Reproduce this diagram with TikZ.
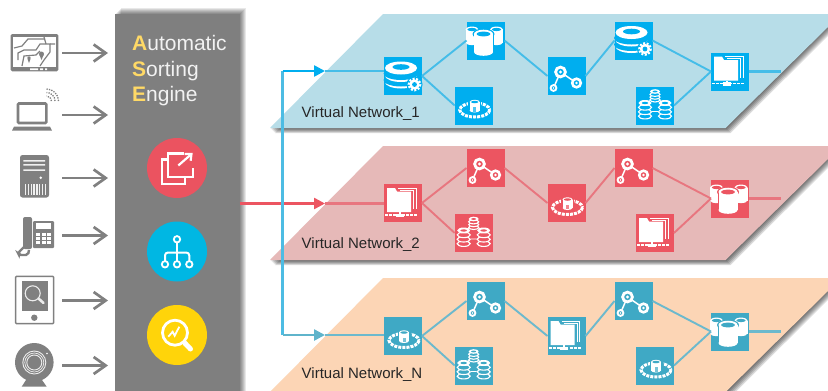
\documentclass[tikz,border=0pt]{standalone}
\usepackage{fontspec}
\setmainfont{Liberation Sans}
\usetikzlibrary{arrows.meta}
\definecolor{panelgray}{HTML}{7F7F7F}
\definecolor{devgray}{HTML}{808080}
\definecolor{planeblue}{HTML}{B7DDE8}
\definecolor{planered}{HTML}{E6B9B8}
\definecolor{planeorange}{HTML}{FCD5B5}
\definecolor{tileblue}{HTML}{00AEEF}
\definecolor{tilered}{HTML}{EC5561}
\definecolor{tileteal}{HTML}{3FA9C5}
\definecolor{wireblue}{HTML}{45BDE8}
\definecolor{wirered}{HTML}{E8767F}
\definecolor{wireteal}{HTML}{6CB9CD}
\definecolor{circred}{HTML}{EB5360}
\definecolor{circblue}{HTML}{00B7E3}
\definecolor{circyellow}{HTML}{FFD40A}
\definecolor{acc}{HTML}{FFD966}
\tikzset{
  x=1pt,y=-1pt,
  tilebox/.style={minimum size=38pt,inner sep=0pt,outer sep=0pt},
  devbox/.style={minimum width=1pt,minimum height=1pt,inner sep=0pt,outer sep=0pt},
  devarrow/.style={draw=devgray,line width=2.7pt,shorten >=7pt,-{Straight Barb[length=12pt,width=17pt,line width=2.7pt]}},
  wire/.style={line width=1.9pt},
  hwire/.style={line width=2.5pt},
  feed/.style={line width=2.5pt,-{Triangle[length=11pt,width=11pt]}},
  vnet/.style={font=\fontsize{15}{15}\selectfont,text=black!85,anchor=base west,inner sep=0pt},
  circ/.style={circle,minimum size=60pt,inner sep=0pt,outer sep=0pt},
}
% ---- tile icons (centre of tile is the origin) ----
\newcommand\cyl[4]{% x, ytop, rx, height
  \fill[white] (#1-#3,#2) rectangle (#1+#3,#2+#4);
  \fill[white] (#1,#2+#4) ellipse[x radius=#3,y radius=#3*.4];
  \fill[white] (#1,#2) ellipse[x radius=#3,y radius=#3*.45];
  \fill[tc] (#1,#2) ellipse[x radius=#3*.72,y radius=#3*.25];}
\newcommand\stackdb[4]{% x, ytop, rx, spacing
  \foreach \k in {3,2,1}{\draw[white,line width=1.1pt,fill=tc] (#1,#2+\k*#4) ellipse[x radius=#3,y radius=#3*.42];}
  \fill[white] (#1,#2) ellipse[x radius=#3,y radius=#3*.46];
  \fill[tc] (#1,#2) ellipse[x radius=#3*.5,y radius=#3*.18];}
\newcommand\icdbgear{%
  \fill[white] (-2,6) ellipse[x radius=16,y radius=6.5];
  \fill[tc] (-2,4) ellipse[x radius=17.5,y radius=6.5];
  \fill[white] (-2,-.5) ellipse[x radius=16,y radius=6.5];
  \fill[tc] (-2,-2.5) ellipse[x radius=17.5,y radius=6.5];
  \fill[white] (-2,-8) ellipse[x radius=16,y radius=6.5];
  \fill[tc] (-2,-9) ellipse[x radius=8.5,y radius=2.8];
  \fill[tc] (11.5,8.5) circle[radius=8];
  \fill[white] (11.5,8.5) circle[radius=5.2];
  \draw[white,line width=2pt,dash pattern=on 2pt off 1.6pt] (11.5,8.5) circle[radius=5.8];
  \fill[tc] (11.5,8.5) circle[radius=2.4];}
\newcommand\iccyls{%
  \cyl{-13.5}{-11}{6.5}{13}
  \cyl{11}{-11}{6.5}{13}
  \fill[tc] (-2,-6.5) ellipse[x radius=11,y radius=5.5];
  \fill[tc] (-12,-6.5) rectangle (8,13);
  \cyl{-2}{-6.5}{9.5}{18}}
\newcommand\icring{%
  \draw[white,line width=3pt,dash pattern=on 3pt off 1.1pt] (1,4.5) ellipse[x radius=15,y radius=7];
  \fill[tc] (-5.5,-6) rectangle (7.5,6);
  \cyl{1}{-3.5}{5}{8.5}
  \fill[tc!70!white] (-.5,1.5) rectangle (2.5,6);}
\newcommand\icgraph{%
  \draw[white,line width=1.5pt] (-6,-4) -- (10,7) (-6,-4) -- (-13,12);
  \foreach \a/\b/\r/\w in {-6/-4/4.9/2.8,10/7/4.3/2.6,-13/12/2.9/1.9}{
    \draw[white,line width=\w pt,fill=tc] (\a,\b) circle[radius=\r];
    \fill[white] (\a,\b) circle[radius=\r*.34];}}
\newcommand\icfolder{%
  \draw[white,line width=1pt] (-5,-15) -- (13,-15) -- (13,6);
  \draw[white,line width=1pt] (-3,-12.7) -- (10.5,-12.7) -- (10.5,6);
  \fill[white] (-16,-15) -- (-8,-15) -- (-6,-11.5) -- (8,-11.5) -- (8,9) -- (-16,9) -- cycle;
  \fill[white] (-4,9) rectangle (-2,12);
  \fill[white] (-7,10.5) rectangle (1,14);
  \draw[white,line width=1.5pt,dash pattern=on 3pt off 1.2pt] (-18,12) -- (14,12);}
\newcommand\ictree{%
  \draw[white,line width=.9pt] (0,-10) -- (-10,0) (0,-10) -- (10,0) (-3,6) -- (3,6);
  \stackdb{0}{-14}{5}{2.8}
  \stackdb{-10}{-2.5}{6.5}{4.4}
  \stackdb{10}{-2.5}{6.5}{4.4}}
\newcommand\tile[5]{% name,x,y,colour,icon
  \colorlet{tc}{#4}
  \node[tilebox,fill=#4] (#1) at (#2,#3) {};
  \begin{scope}[shift={(#2,#3)}]#5\end{scope}}
\newcommand\plane[2]{% top y, colour
  \foreach \d in {1,...,5}{\fill[black,opacity=.14] (383+\d,#1+\d) -- (840+\d,#1+\d) -- (725.5+\d,#1+114+\d) -- (270+\d,#1+114+\d) -- cycle;}
  \fill[#2] (383,#1) -- (828,#1) -- (828,#1+13) -- (725.5,#1+114) -- (270,#1+114) -- cycle;}
\newcommand\wires[3]{% prefix, colour, out y
  \draw[wire,#2] (#11.east) -- (#12.west);
  \draw[wire,#2] (#11.east) -- (#13.west);
  \draw[wire,#2] (#12.east) -- (#14.west);
  \draw[wire,#2] (#14.east) -- (#15.west);
  \draw[wire,#2] (#15.east) -- (#17.west);
  \draw[wire,#2] (#16.east) -- (#17.west);
  \coordinate (#1out) at (780.5,#3);
  \draw[hwire,#2] (#17.east) -- (#1out);}
\begin{document}
\begin{tikzpicture}
\useasboundingbox (0,0) rectangle (828,391);
\clip (0,0) rectangle (828,391);
\fill[white] (0,0) rectangle (828,391);
% planes
\plane{14}{planeblue}
\plane{146}{planered}
\plane{278}{planeorange}
% panel
\foreach \d in {1,...,6}{\fill[black,opacity=.09] (115+\d,14-\d) rectangle (239.5+\d,395);}
\node[fill=panelgray,minimum width=124.5pt,minimum height=380pt,inner sep=0pt,outer sep=0pt] (panel) at (177.25,204) {};
\node[anchor=north west,inner sep=0pt,align=left,text=white!95!black,font=\fontsize{21}{25.5}\selectfont] (title) at (132,35.5)
 {{\bfseries\color{acc}A}utomatic\\{\bfseries\color{acc}S}orting\\{\bfseries\color{acc}E}ngine};
% circles
\node[circ,fill=circred] (c1) at (177,168) {};
\node[circ,fill=circblue] (c2) at (177,251.5) {};
\node[circ,fill=circyellow] (c3) at (177,335) {};
\draw[white,line width=2.2pt,line join=miter] (183.5,153.5) -- (168.3,153.5) -- (168.3,176.7) -- (192.7,176.7) -- (192.7,168);
\draw[white,line width=2.2pt] (168,159.5) -- (161.7,159.5) -- (161.7,184) -- (185,184) -- (185,177);
\draw[white,line width=2.2pt,-{Straight Barb[length=5pt,width=9pt,line width=2.2pt]}] (178.3,165.5) -- (192.7,153);
\draw[white,line width=2pt] (177,242) -- (177,261);
\draw[white,line width=2pt,rounded corners=3pt] (165,261) -- (165,252.5) -- (189.3,252.5) -- (189.3,261);
\foreach \a/\b in {177/239.3,165/264.3,177/264.3,189.3/264.3}{\draw[white,line width=1.8pt,fill=circblue] (\a,\b) circle[radius=3.2];}
\draw[white,line width=2.8pt] (175,332.7) circle[radius=12.5];
\draw[white,line width=5pt,line cap=round] (184.8,343) -- (190.5,349);
\draw[white,line width=1.8pt] (168.3,336.7) -- (172.7,331.7) -- (174.7,335.7) -- (179.3,326.7);
% devices
\node[devbox] (d1) at (61.5,53) {};
\node[devbox] (d2) at (61.5,115) {};
\node[devbox] (d3) at (61.5,178) {};
\node[devbox] (d4) at (61.5,235.5) {};
\node[devbox] (d5) at (61.5,300.5) {};
\node[devbox] (d6) at (61.5,365.5) {};
\foreach \n in {1,...,6}{\draw[devarrow] (d\n.east) -- (d\n.east -| panel.west);}
% monitor
\fill[devgray,rounded corners=1.5pt] (10.7,34) rectangle (58.3,71.3);
\fill[white] (13,36.8) rectangle (56,67);
\begin{scope}[devgray,line width=1.2pt]
\draw (14,48) -- (22,46) -- (28,39) -- (45,39);
\draw (18,60) -- (18,53) -- (24,50) -- (36,50) -- (40,44) -- (50,44) -- (50,52) -- (44,60) -- (40,66);
\draw (22,66) -- (24,56) -- (36,55) -- (40,51);
\draw (44,37) -- (46,44) (50,44) -- (55,44);
\fill (41.5,54) circle[radius=2.5];
\fill (41.5,54) -- (39.5,55) -- (41.5,60) -- (43.5,55) -- cycle;
\fill (29,58) circle[radius=1.8];
\fill (27.5,59) -- (29,63) -- (30.5,59) -- cycle;
\end{scope}
\fill[white] (30,68.4) rectangle (38,70) (40,68.4) rectangle (43,70) (45,68.4) rectangle (47,70);
% laptop
\draw[devgray,line width=2.6pt,rounded corners=1pt] (18,103.5) rectangle (46.3,123);
\fill[devgray] (14,126.5) -- (50,126.5) -- (52,130.5) -- (12,130.5) -- cycle;
\foreach \r in {5,8.5,12}{\draw[devgray,line width=1.3pt,dash pattern=on 1.3pt off 1.2pt] (46.5,101) ++(\r,0) arc[start angle=0,end angle=-90,x radius=\r,y radius=\r];}
% server
\fill[devgray,rounded corners=2.5pt] (20,155) rectangle (49,197.5);
\fill[white!88!devgray] (23.3,160) rectangle (45,161.5) (23.3,164) rectangle (45,165.5) (23.3,169.3) rectangle (45,170.8);
\fill[white] (40.7,177.7) circle[radius=1.4];
\foreach \i in {0,...,7}{\fill[white!88!devgray] (25+\i*2.8,184) rectangle (26.3+\i*2.8,195);}
% phone
\fill[devgray,rounded corners=2pt] (23,217) rectangle (32,249);
\fill[devgray,rounded corners=1pt] (33,221) rectangle (54,248);
\fill[white] (36,223.3) rectangle (50.7,229.3);
\foreach \i in {0,1,2}{\foreach \j in {0,1,2}{\fill[white] (36+\i*5.5,233+\j*4) rectangle (40.3+\i*5.5,235.8+\j*4);}}
\draw[devgray,line width=2.4pt,rounded corners=2pt] (24,247) -- (18,253) -- (19,255) -- (28,255) -- (29,250);
% tablet
\draw[devgray,line width=1.5pt,rounded corners=1pt] (15.6,276.3) rectangle (53.7,323.7);
\fill[devgray] (22,281.3) rectangle (48.3,310.7);
\draw[white!85!devgray,line width=1.1pt] (32.7,293.3) circle[radius=7.5];
\draw[white!85!devgray,line width=2.6pt,line cap=round] (38.5,298.5) -- (43.5,303);
\fill[devgray] (34.3,317.7) circle[radius=3.2];
% webcam
\fill[devgray] (34.3,362.3) circle[radius=19.3];
\draw[white!85!devgray,line width=.9pt] (34.3,362.5) circle[radius=11.5];
\draw[white!85!devgray,line width=.7pt] (34.3,362.5) circle[radius=9.5];
\draw[white!85!devgray,line width=.9pt] (34.3,362.5) circle[radius=7.5];
\fill[white] (47,353.5) circle[radius=.9];
\fill[devgray] (26,380) -- (42,380) -- (46.7,386.7) -- (21.7,386.7) -- cycle;
% tiles
\tile{a1}{403}{76}{tileblue}{\icdbgear}
\tile{a2}{485.5}{40.5}{tileblue}{\iccyls}
\tile{a3}{473.7}{105.5}{tileblue}{\icring}
\tile{a4}{566.5}{76}{tileblue}{\icgraph}
\tile{a5}{633.5}{40.5}{tileblue}{\icdbgear}
\tile{a6}{655}{105.5}{tileblue}{\ictree}
\tile{a7}{730}{71.5}{tileblue}{\icfolder}
\tile{b1}{403}{203}{tilered}{\icfolder}
\tile{b2}{485.5}{168}{tilered}{\icgraph}
\tile{b3}{473.7}{233}{tilered}{\ictree}
\tile{b4}{566.5}{203}{tilered}{\icring}
\tile{b5}{633.5}{168}{tilered}{\icgraph}
\tile{b6}{655}{233}{tilered}{\icfolder}
\tile{b7}{730}{198.5}{tilered}{\iccyls}
\tile{e1}{403}{336}{tileteal}{\icring}
\tile{e2}{485.5}{301}{tileteal}{\icgraph}
\tile{e3}{473.7}{365.5}{tileteal}{\ictree}
\tile{e4}{566.5}{336}{tileteal}{\icfolder}
\tile{e5}{633.5}{301}{tileteal}{\icgraph}
\tile{e6}{655}{365.5}{tileteal}{\icring}
\tile{e7}{730}{331.5}{tileteal}{\iccyls}
\wires{a}{wireblue}{71.5}
\wires{b}{wirered}{198.5}
\wires{e}{wireteal}{331.5}
% feeds
\coordinate (rtip) at (325,203.5);
\coordinate (btip) at (325,71);
\coordinate (etip) at (325,335);
\coordinate (bcorner) at (282.5,71);
\coordinate (ecorner) at (282.5,335);
\draw[feed,tilered] (panel.east |- rtip) -- (rtip);
\draw[hwire,wirered] (rtip) -- (b1.west |- rtip);
\draw[hwire,wireblue] (btip) -- (a1.west |- btip);
\draw[hwire,wireteal] (etip) -- (e1.west |- etip);
\draw[hwire,wireblue!80!wireteal,line join=miter] (ecorner) -- (bcorner);
\draw[feed,tileblue] (bcorner) -- (btip);
\draw[feed,wireteal!70!tileteal] (ecorner) -- (etip);
% labels
\node[vnet] (l1) at (301.5,117) {Virtual Network\_1};
\node[vnet] (l2) at (301.5,248.5) {Virtual Network\_2};
\node[vnet] (l3) at (301.5,378.5) {Virtual Network\_N};
\end{tikzpicture}
\end{document}
